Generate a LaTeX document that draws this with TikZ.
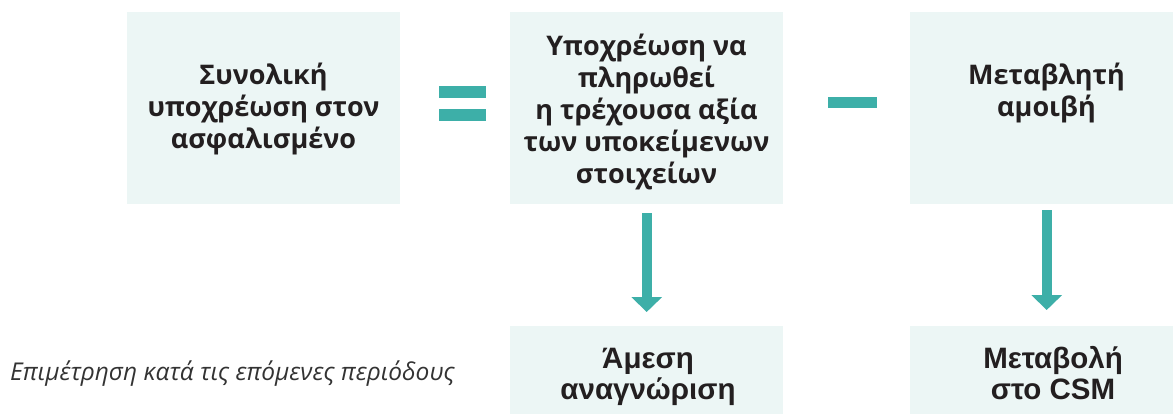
\documentclass[tikz,border=0pt]{standalone}
\usepackage{fontspec}
\setmainfont{Open Sans}
\newfontfamily\helv{Liberation Sans}
\usetikzlibrary{arrows.meta}
\definecolor{teal}{HTML}{3DAFA8}
\definecolor{boxfill}{HTML}{ECF6F5}
\definecolor{txt}{HTML}{231F20}
\definecolor{notec}{HTML}{333333}
\tikzset{
  box/.style={fill=boxfill, draw=none, inner sep=0pt, minimum width=273pt, anchor=north west},
  toplbl/.style={font=\bfseries\fontsize{27}{32}\selectfont, text=txt, align=center, anchor=base, inner sep=0pt},
  botlbl/.style={font=\helv\bfseries\fontsize{29.5}{31}\selectfont, text=txt, align=center, anchor=base, inner sep=0pt},
  bar/.style={fill=teal, draw=none, inner sep=0pt, minimum width=47pt, minimum height=12pt},
  arr/.style={draw=teal, line width=10pt, -{Triangle[width=30pt,length=15pt]}},
}
\begin{document}
\begin{tikzpicture}[x=1pt,y=-1pt]
\useasboundingbox (0,0) rectangle (1173,413);
\clip (0,0) rectangle (1173,413);
% boxes
\node[box, minimum height=192pt] (b1) at (127,12) {};
\node[box, minimum height=192pt] (b2) at (510,12) {};
\node[box, minimum height=192pt] (b3) at (910,12) {};
\node[box, minimum height=100pt] (b4) at (510,326) {};
\node[box, minimum height=100pt] (b5) at (910,326) {};
% labels (base anchor = baseline of the last line)
\node[toplbl] (t1) at (263.5,148) {Συνολική\\υποχρέωση στον\\ασφαλισμένο};
\node[toplbl] (t2) at (646.5,183) {Υποχρέωση να\\πληρωθεί\\η τρέχουσα αξία\\των υποκείμενων\\στοιχείων};
\node[toplbl] (t3) at (1046.5,116) {Μεταβλητή\\αμοιβή};
\node[botlbl] (t4) at (648,399) {Άμεση\\αναγνώριση};
\node[botlbl] (t5) at (1053,399) {Μεταβολή\\στο CSM};
% operators
\node[bar] (eqa) at (462.5,92) {};
\node[bar] (eqb) at (462.5,115) {};
\node[bar, minimum width=49pt, minimum height=11pt] (minus) at (852.5,102.5) {};
% arrows
\draw[arr, shorten <=9pt, shorten >=14pt] (b2.south) -- (b4.north);
\draw[arr, shorten <=6pt, shorten >=16pt] (b3.south) -- (b5.north);
% note
\node[anchor=base west, inner sep=0pt, text=notec, font=\itshape\fontsize{24.5}{28}\selectfont] (note) at (10,380) {Επιμέτρηση κατά τις επόμενες περιόδους};
\end{tikzpicture}
\end{document}
